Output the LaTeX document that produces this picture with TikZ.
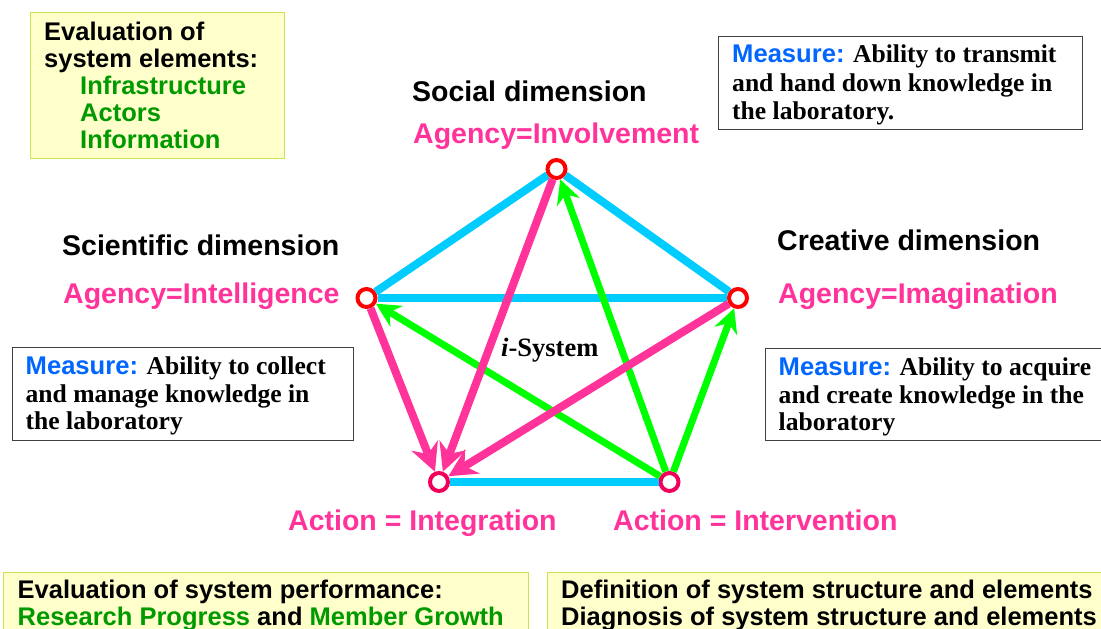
\documentclass[tikz,border=0pt]{standalone}
\usepackage{fontspec}
\setmainfont{Liberation Serif}
\setsansfont{Liberation Sans}
\usetikzlibrary{arrows.meta}
\definecolor{edgeblue}{RGB}{0,204,255}
\definecolor{arrpink}{RGB}{255,51,153}
\definecolor{arrgreen}{RGB}{0,255,0}
\definecolor{txtpink}{RGB}{255,51,153}
\definecolor{txtgreen}{RGB}{0,153,0}
\definecolor{msblue}{RGB}{0,102,255}
\definecolor{boxyellow}{RGB}{255,255,204}
\definecolor{boxgreen}{RGB}{200,230,80}
\definecolor{ringred}{RGB}{255,0,0}
\definecolor{ringcrimson}{RGB}{240,0,90}
\tikzset{
 vtx/.style={circle, draw=ringred, line width=4pt, fill=white, minimum size=18pt, inner sep=0pt},
 vtxb/.style={vtx, draw=ringcrimson},
 edgeline/.style={draw=edgeblue, line width=8pt},
 parr/.style={draw=arrpink, line width=8pt, -{Stealth[length=28pt,width=28pt,inset=9pt]}},
 garr/.style={draw=arrgreen, line width=7pt, -{Stealth[length=24pt,width=24pt,inset=8pt]}},
 lbl/.style={font=\fontsize{28.5}{30}\selectfont\sffamily\bfseries, anchor=base west, inner sep=0pt},
 dimlbl/.style={lbl, text=black},
 aglbl/.style={lbl, text=txtpink},
 boxtxt/.style={font=\fontsize{25.5}{27}\selectfont\sffamily\bfseries, anchor=base west, inner sep=0pt},
 meastxt/.style={font=\fontsize{25.6}{27}\selectfont\rmfamily\bfseries, anchor=base west, inner sep=0pt},
 ybox/.style={draw=boxgreen, fill=boxyellow, line width=1.2pt, anchor=north west, inner sep=0pt},
 wbox/.style={draw=black!75, fill=white, line width=1.2pt, anchor=north west, inner sep=0pt},
}
\newcommand{\msr}{{\sffamily\color{msblue}Measure:}}
\begin{document}
\begin{tikzpicture}[x=1pt,y=-1pt]
\useasboundingbox (0,0) rectangle (1101,629);
\clip (0,0) rectangle (1101,629);
% boxes
\node[ybox, minimum width=254pt, minimum height=146pt] (boxA) at (30,12) {};
\node[boxtxt] (a1) at (44,40) {Evaluation of};
\node[boxtxt] (a2) at (44,67) {system elements:};
\node[boxtxt, text=txtgreen] (a3) at (80,94) {Infrastructure};
\node[boxtxt, text=txtgreen] (a4) at (80,121) {Actors};
\node[boxtxt, text=txtgreen] (a5) at (80,148) {Information};

\node[wbox, minimum width=364pt, minimum height=93pt] (boxB) at (718,36) {};
\node[meastxt] (b1) at (732,62.5) {\msr{} Ability to transmit};
\node[meastxt] (b2) at (732,91) {and hand down knowledge in};
\node[meastxt] (b3) at (732,119.5) {the laboratory.};

\node[wbox, minimum width=341pt, minimum height=93pt] (boxC) at (12,347) {};
\node[meastxt] (c1) at (25.5,374) {\msr{} Ability to collect};
\node[meastxt] (c2) at (25.5,402) {and manage knowledge in};
\node[meastxt] (c3) at (25.5,429.5) {the laboratory};

\node[wbox, minimum width=336pt, minimum height=92pt] (boxD) at (765,348) {};
\node[meastxt] (d1) at (778.5,375) {\msr{} Ability to acquire};
\node[meastxt] (d2) at (778.5,403) {and create knowledge in the};
\node[meastxt] (d3) at (778.5,430) {laboratory};

\node[ybox, minimum width=525pt, minimum height=90pt] (boxE) at (3,571.5) {};
\node[boxtxt] (e1) at (17.5,598.5) {Evaluation of system performance:};
\node[boxtxt] (e2) at (17.5,625) {\textcolor{txtgreen}{Research Progress} and \textcolor{txtgreen}{Member Growth}};

\node[ybox, minimum width=570pt, minimum height=90pt] (boxF) at (547,571.5) {};
\node[boxtxt] (f1) at (561,598.5) {Definition of system structure and elements};
\node[boxtxt] (f2) at (561,625) {Diagnosis of system structure and elements};

% labels
\node[dimlbl] (soc) at (412,101) {Social dimension};
\node[aglbl] (socag) at (413,143) {Agency=Involvement};
\node[dimlbl] (sci) at (62,255) {Scientific dimension};
\node[aglbl] (sciag) at (63,303.5) {Agency=Intelligence};
\node[dimlbl] (cre) at (777,250) {Creative dimension};
\node[aglbl] (creag) at (778,303.5) {Agency=Imagination};
\node[aglbl] (act1) at (288,530) {Action = Integration};
\node[aglbl] (act2) at (613,530) {Action = Intervention};
\node[font=\fontsize{26.5}{28}\selectfont\rmfamily\bfseries, anchor=base west, inner sep=0pt] (isys) at (501,356) {\textit{i}-System};

% vertices
\node[vtx] (T) at (556.5,169) {};
\node[vtx] (L) at (366.5,298) {};
\node[vtx] (R) at (738,298) {};
\node[vtxb] (BL) at (439,482) {};
\node[vtxb] (BR) at (669.5,482) {};

% blue edges
\draw[edgeline] (T) -- (L);
\draw[edgeline] (T) -- (R);
\draw[edgeline] (L) -- (R);
\draw[edgeline] (BL) -- (BR);
% green arrows
\draw[garr] (BR) -- (T);
\draw[garr] (BR) -- (L);
\draw[garr] (BR) -- (R);
% pink arrows
\draw[parr] (T) -- (BL);
\draw[parr] (L) -- (BL);
\draw[parr] (R) -- (BL);
\end{tikzpicture}
\end{document}
